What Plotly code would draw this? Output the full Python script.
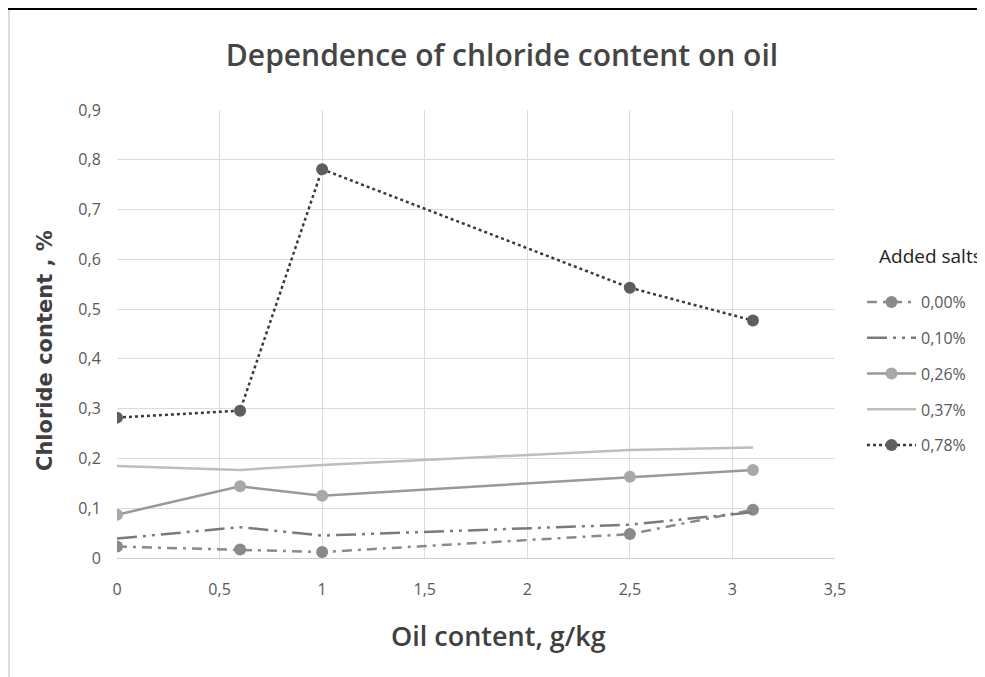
import plotly.graph_objects as go

oil_content = [0, 0.6, 1, 2.5, 3.1]
series_names = ["0,00%", "0,10%", "0,26%", "0,37%", "0,78%"]
salt_000 = [0.023, 0.017, 0.012, 0.048, 0.097]
salt_010 = [0.039, 0.062, 0.045, 0.067, 0.092]
salt_026 = [0.087, 0.144, 0.125, 0.163, 0.177]
salt_037 = [0.185, 0.177, 0.187, 0.217, 0.222]
salt_078 = [0.282, 0.296, 0.781, 0.543, 0.477]

x_tickvals = [0, 0.5, 1, 1.5, 2, 2.5, 3, 3.5]
x_ticktext = ["0", "0,5", "1", "1,5", "2", "2,5", "3", "3,5"]
y_tickvals = [0, 0.1, 0.2, 0.3, 0.4, 0.5, 0.6, 0.7, 0.8, 0.9]
y_ticktext = ["0", "0,1", "0,2", "0,3", "0,4", "0,5", "0,6", "0,7", "0,8", "0,9"]

OFF = 8  # browser body margin
W, H = 985 - OFF, 677 - OFF
L, R, T, B = 117 - OFF, 835 - OFF, 110 - OFF, 558 - OFF


def sx(v):
    return (v - OFF - L) / (R - L)


def sy(v):
    return (B - (v - OFF)) / (B - T)


fig = go.Figure()
fig.add_trace(go.Scatter(x=oil_content, y=salt_000, name=series_names[0], mode="lines+markers",
                         legendgroup="g0",
                         line=dict(color="#8a8a8a", width=2.5, dash="10px,6px,3px,6px"),
                         marker=dict(size=12, color="#8a8a8a")))
fig.add_trace(go.Scatter(x=oil_content, y=salt_010, name=series_names[1], mode="lines",
                         legendgroup="g1",
                         line=dict(color="#7a7a7a", width=2.5, dash="20px,6px,3px,6px,3px,6px")))
fig.add_trace(go.Scatter(x=oil_content, y=salt_026, name=series_names[2], mode="lines+markers",
                         legendgroup="g2",
                         line=dict(color="#999999", width=2.5),
                         marker=dict(size=12, color="#a8a8a8")))
fig.add_trace(go.Scatter(x=oil_content, y=salt_037, name=series_names[3], mode="lines",
                         legendgroup="g3",
                         line=dict(color="#bdbdbd", width=2.5)))
fig.add_trace(go.Scatter(x=oil_content, y=salt_078, name=series_names[4], mode="lines+markers",
                         legendgroup="g4",
                         line=dict(color="#3a3a3a", width=2.5, dash="dot"),
                         marker=dict(size=12, color="#5e5e5e")))

shapes = [
    dict(type="line", xref="paper", yref="paper", x0=sx(OFF), x1=sx(985), y0=sy(OFF + 1), y1=sy(OFF + 1),
         line=dict(color="#000000", width=2)),
    dict(type="line", xref="paper", yref="paper", x0=sx(OFF + 1), x1=sx(OFF + 1), y0=sy(OFF + 2), y1=sy(677),
         line=dict(color="#d0d0d0", width=1.5)),
]

annotations = [
    dict(text="Added salts", xref="paper", yref="paper",
         x=sx(877), xanchor="left", y=sy(256), yanchor="middle",
         showarrow=False, font=dict(family="Open Sans", size=19, color="#222222")),
    dict(text="<b>Chloride content , %</b>", xref="paper", yref="paper",
         x=sx(45), xanchor="center", y=sy(351), yanchor="middle", textangle=-90,
         showarrow=False, font=dict(family="DejaVu Sans", size=21, color="#404040")),
    dict(text="Oil content, g/kg", xref="paper", yref="paper",
         x=sx(498), xanchor="center", y=sy(635), yanchor="middle",
         showarrow=False, font=dict(family="Open Sans", size=27, weight=600, color="#404040")),
]

fig.update_layout(
    width=W, height=H,
    margin=dict(l=L, r=W - R, t=T, b=H - B),
    paper_bgcolor="white", plot_bgcolor="white",
    font=dict(family="Open Sans", color="#595959"),
    title=dict(text="Dependence of chloride content on oil", x=(502 - OFF) / W, xanchor="center",
               y=1 - (55 - OFF) / H, yanchor="middle",
               font=dict(family="Open Sans", size=30, weight=600, color="#454545")),
    xaxis=dict(range=[0, 3.5], tickvals=x_tickvals, ticktext=x_ticktext,
               showgrid=True, gridcolor="#dcdcdc", gridwidth=1, zeroline=False,
               showline=True, linecolor="#d0d0d0",
               ticks="outside", ticklen=17, tickcolor="rgba(0,0,0,0)",
               tickfont=dict(size=16, color="#595959")),
    yaxis=dict(range=[0, 0.9], tickvals=y_tickvals, ticktext=y_ticktext,
               showgrid=True, gridcolor="#dcdcdc", gridwidth=1, zeroline=False,
               showline=False,
               ticks="outside", ticklen=12, tickcolor="rgba(0,0,0,0)",
               tickfont=dict(size=16, color="#595959")),
    legend=dict(x=sx(862), xanchor="left", y=sy(285), yanchor="top",
                font=dict(size=16, color="#595959"), tracegroupgap=12,
                itemwidth=49, bgcolor="rgba(0,0,0,0)"),
    annotations=annotations,
    shapes=shapes,
)

fig.write_html("out.html")
